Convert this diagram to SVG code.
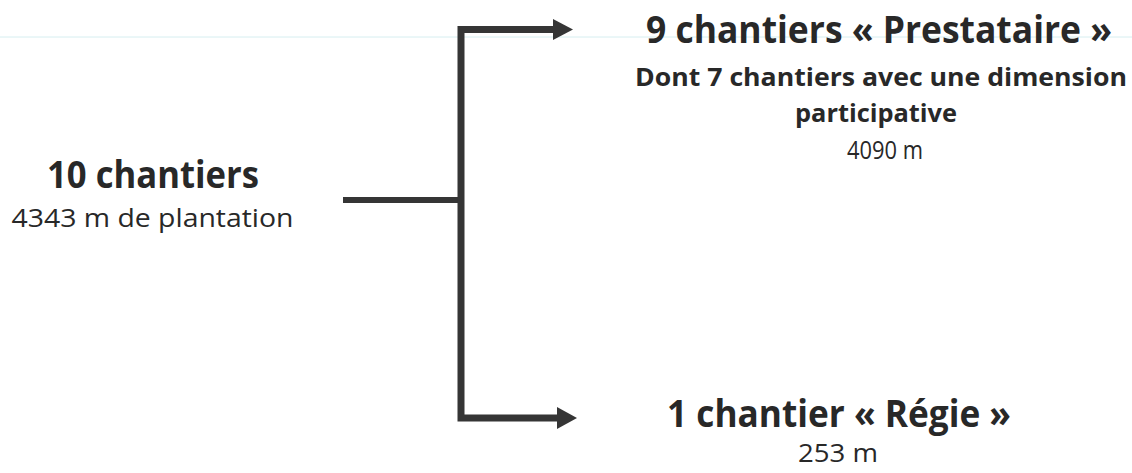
<svg xmlns="http://www.w3.org/2000/svg" width="1132" height="473" viewBox="0 0 1132 473">
<style>
.t{font-family:"Open Sans","Noto Sans","Liberation Sans",sans-serif;fill:#282828;text-anchor:middle}
.b{font-weight:700}
.h{font-size:38px}
.s{font-size:25.5px}
.c{fill:none;stroke:#353535;stroke-linejoin:miter;stroke-linecap:butt}
.a{fill:#353535}
</style>
<rect width="1132" height="473" fill="#ffffff"/>
<line x1="0" y1="37" x2="1132" y2="37" stroke="#d6eef0" stroke-width="1"/>
<g id="connectors">
<path class="c" d="M343,200 H461" stroke-width="6"/>
<path class="c" d="M555,29.5 H461 V418 H558" stroke-width="7"/>
<polygon class="a" points="553,19 573,29.5 553,40"/>
<polygon class="a" points="557,407 577,418 557,429"/>
</g>
<g id="node-total">
<text class="t b h" x="153" y="188" textLength="212" lengthAdjust="spacingAndGlyphs">10 chantiers</text>
<text class="t s" x="152.5" y="227" textLength="282" lengthAdjust="spacingAndGlyphs">4343 m de plantation</text>
</g>
<g id="node-prestataire">
<text class="t b h" x="879" y="43" textLength="466" lengthAdjust="spacingAndGlyphs">9 chantiers « Prestataire »</text>
<text class="t b s" x="881" y="86" textLength="492" lengthAdjust="spacingAndGlyphs">Dont 7 chantiers avec une dimension</text>
<text class="t b s" x="876" y="122" textLength="162" lengthAdjust="spacingAndGlyphs">participative</text>
<text class="t s" x="885" y="159" textLength="76" lengthAdjust="spacingAndGlyphs">4090 m</text>
</g>
<g id="node-regie">
<text class="t b h" x="839" y="427" textLength="344" lengthAdjust="spacingAndGlyphs">1 chantier « Régie »</text>
<text class="t s" x="838" y="462" textLength="80" lengthAdjust="spacingAndGlyphs">253 m</text>
</g>
</svg>
